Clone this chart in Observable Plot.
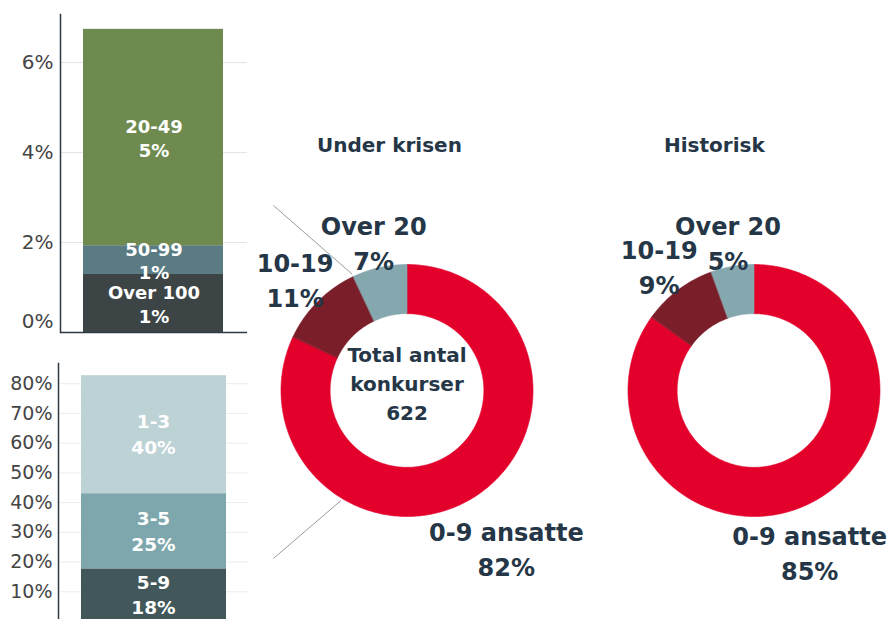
<!DOCTYPE html>
<html>
<head>
<meta charset="utf-8">
<script src="https://cdn.jsdelivr.net/npm/d3@7"></script>
<script src="https://cdn.jsdelivr.net/npm/@observablehq/plot@0.6"></script>
<style>
  html, body { margin: 0; padding: 0; background: #fff; }
  #fig { position: relative; width: 895px; height: 619px; overflow: hidden; background: #fff; font-family: "DejaVu Sans", sans-serif; }
  #fig > svg { position: absolute; overflow: visible; }
</style>
</head>
<body>
<div id="fig"></div>
<script>
// ---------------- DATA ----------------
// Top-left stacked bar: companies with 20+ employees (share of all bankruptcies)
const topCategories = ["Over 100", "50-99", "20-49"];
const topValues = [1.29, 0.64, 4.81];
const topLabels = ["1%", "1%", "5%"];
const topTicks = [0, 2, 4, 6];

// Bottom-left stacked bar: companies with 0-9 employees
const bottomCategories = ["5-9", "3-5", "1-3"];
const bottomValues = [17.7, 25.3, 39.7];
const bottomLabels = ["18%", "25%", "40%"];
const bottomTicks = [10, 20, 30, 40, 50, 60, 70, 80];

// Donuts
const periods = ["Under krisen", "Historisk"];
const sizeGroups = ["0-9 ansatte", "10-19", "Over 20"];
const krisenShares = [82, 11, 7];
const historiskShares = [84.9, 9.6, 5.5];
const krisenLabels = ["82%", "11%", "7%"];
const historiskLabels = ["85%", "9%", "5%"];
const totalText = "Total antal\nkonkurser";
const totalCount = 622;

// ---------------- STYLE / LAYOUT ----------------
const textDark = "#253647";
const fig = document.getElementById("fig");
const baseStyle = {fontFamily: "DejaVu Sans, sans-serif", color: "#454545", background: "transparent", overflow: "visible"};

function place(svg, left, top) {
  svg.style.left = left + "px";
  svg.style.top = top + "px";
  fig.appendChild(svg);
}

// ---------------- TOP BAR ----------------
const topData = topCategories.map((c, i) => ({bar: "20+", cat: c, value: topValues[i], label: `${c}\n${topLabels[i]}`}));
const topPlot = Plot.plot({
  width: 250, height: 340,
  marginLeft: 60, marginRight: 3, marginTop: 14, marginBottom: 8,
  style: baseStyle,
  x: {axis: null, padding: 0},
  y: {domain: [0, 7.07], axis: null},
  color: {domain: topCategories, range: ["#3D4446", "#5A7B82", "#6E8A4F"]},
  marks: [
    Plot.gridY(topTicks.filter(d => d > 0), {stroke: "#e4e4e4", strokeOpacity: 1}),
    Plot.barY(topData, {x: "bar", y: "value", fill: "cat", insetLeft: 23, insetRight: 24}),
    Plot.text(topData, Plot.stackY({x: "bar", y: "value", text: "label", fill: "white", fontWeight: "bold", fontSize: 18, lineHeight: 1.3})),
    Plot.axisY({ticks: topTicks.filter(d => d > 0), tickFormat: d => d + "%", tickSize: 0, tickPadding: 7, fontSize: 20, label: null}),
    Plot.axisY({ticks: [0], tickFormat: d => d + "%", tickSize: 0, tickPadding: 7, fontSize: 20, label: null, dy: -11}),
    Plot.ruleY([0], {stroke: "#2f3a44", strokeWidth: 1.5}),
    Plot.frame({anchor: "left", stroke: "#2f3a44", strokeWidth: 1.5})
  ]
});
place(topPlot, 0, 0);

// ---------------- BOTTOM BAR ----------------
const bottomData = bottomCategories.map((c, i) => ({bar: "0-9", cat: c, value: bottomValues[i], label: `${c}\n${bottomLabels[i]}`}));
const bottomPlot = Plot.plot({
  width: 250, height: 290,
  marginLeft: 58, marginRight: 2, marginTop: 23, marginBottom: 9,
  style: baseStyle,
  x: {axis: null, padding: 0},
  y: {domain: [0, 86.8], axis: null},
  color: {domain: bottomCategories, range: ["#41575A", "#7DA7AD", "#BCD2D5"]},
  marks: [
    Plot.gridY(bottomTicks, {stroke: "#ececec", strokeOpacity: 1}),
    Plot.barY(bottomData, {x: "bar", y: "value", fill: "cat", insetLeft: 23, insetRight: 22}),
    Plot.text(bottomData, Plot.stackY({x: "bar", y: "value", text: "label", fill: "white", fontWeight: "bold", fontSize: 18.5, lineHeight: 1.4, dy: -2})),
    Plot.axisY({ticks: bottomTicks, tickFormat: d => d + "%", tickSize: 0, tickPadding: 6, fontSize: 19, label: null}),
    Plot.frame({anchor: "left", stroke: "#2f3a44", strokeWidth: 1.5})
  ]
});
place(bottomPlot, 0, 340);

// ---------------- DONUTS ----------------
const R = 126;                 // outer radius in px
const innerRatio = 0.61;
const facetW = 347;
const donutLeft = 233, donutTop = 120;
const donutMarginTop = 40, donutH = 500;
const centerY = 390 - donutTop - donutMarginTop;
const frameH = donutH - donutMarginTop;
const yDomain = [-(frameH - centerY) / R, centerY / R];
const xDomain = [-facetW / 2 / R, facetW / 2 / R];
const labelFont = 24, labelLH = 1.45;

const sharesBy = {"Under krisen": krisenShares, "Historisk": historiskShares};
const pctBy = {"Under krisen": krisenLabels, "Historisk": historiskLabels};
const pie = d3.pie().sort(null).value(d => d.value);

const ringPoints = [];
const sliceLabels = [];
let connectorStart = 0;
periods.forEach((p, pi) => {
  const rows = sizeGroups.map((g, i) => ({period: p, group: g, value: sharesBy[p][i], pct: pctBy[p][i]}));
  pie(rows).forEach(a => {
    const a0 = a.startAngle, a1 = a.endAngle;
    const n = Math.max(2, Math.ceil((a1 - a0) / (Math.PI / 180)));
    const key = p + "|" + a.data.group;
    for (let k = 0; k <= n; k++) {
      const t = a0 + (a1 - a0) * k / n;
      ringPoints.push({period: p, group: a.data.group, key, x: Math.sin(t), y: Math.cos(t)});
    }
    for (let k = n; k >= 0; k--) {
      const t = a0 + (a1 - a0) * k / n;
      ringPoints.push({period: p, group: a.data.group, key, x: innerRatio * Math.sin(t), y: innerRatio * Math.cos(t)});
    }
    if (pi === 0 && a.data.group === "Over 20") connectorStart = a0;
    // outside-end label placement
    const mid = (a0 + a1) / 2;
    const text = `${a.data.group}\n${a.data.pct}`;
    const chars = Math.max(...text.split("\n").map(s => s.length));
    const w = chars * 0.62 * labelFont;
    const h = labelFont * (labelLH + 0.73);
    const half = 0.5 * (w * Math.abs(Math.sin(mid)) + h * Math.abs(Math.cos(mid)));
    const f = Math.cos(mid) < 0 ? 0.9 : 0.72;
    const r = (R + f * half) / R;
    let x = r * Math.sin(mid), y = r * Math.cos(mid);
    const centerAbs = donutLeft + facetW * (pi + 0.5);
    x = Math.min(x, (895 - 4 - w / 2 - centerAbs) / R);
    sliceLabels.push({period: p, text, x, y});
  });
});

// decorative leader lines from the first donut toward the bar charts
const connectors = [
  {period: periods[0], x1: 1.02 * Math.sin(connectorStart), y1: 1.02 * Math.cos(connectorStart), x2: -1.06, y2: 1.468},
  {period: periods[0], x1: 1.02 * Math.sin(211 * Math.PI / 180), y1: 1.02 * Math.cos(211 * Math.PI / 180), x2: -1.06, y2: -1.333}
];

const donutPlot = Plot.plot({
  width: facetW * periods.length, height: donutH,
  marginLeft: 0, marginRight: 0, marginTop: donutMarginTop, marginBottom: 0,
  style: baseStyle,
  fx: {domain: periods, padding: 0, axis: null},
  x: {domain: xDomain, axis: null},
  y: {domain: yDomain, axis: null},
  color: {domain: sizeGroups, range: ["#E3002B", "#7A1F2A", "#85A8AF"]},
  marks: [
    Plot.link(connectors, {fx: "period", x1: "x1", y1: "y1", x2: "x2", y2: "y2", stroke: "#9b9b9b", strokeWidth: 1}),
    Plot.line(ringPoints, {fx: "period", x: "x", y: "y", z: "key", fill: "group", stroke: "group", strokeWidth: 0.6, curve: "linear-closed"}),
    Plot.text(sliceLabels, {fx: "period", x: "x", y: "y", text: "text", fill: textDark, fontWeight: "bold", fontSize: labelFont, lineHeight: labelLH}),
    Plot.text([{period: periods[0], text: `${totalText}\n${totalCount}`}], {fx: "period", text: "text", frameAnchor: "middle", dy: -9, fill: textDark, fontWeight: "bold", fontSize: 20, lineHeight: 1.45}),
    Plot.text(periods, {fx: d => d, text: d => d, frameAnchor: "top", textAnchor: "start", lineAnchor: "bottom", dx: -90, dy: -9, fill: textDark, fontWeight: "bold", fontSize: 20})
  ]
});
place(donutPlot, donutLeft, donutTop);
</script>
</body>
</html>
